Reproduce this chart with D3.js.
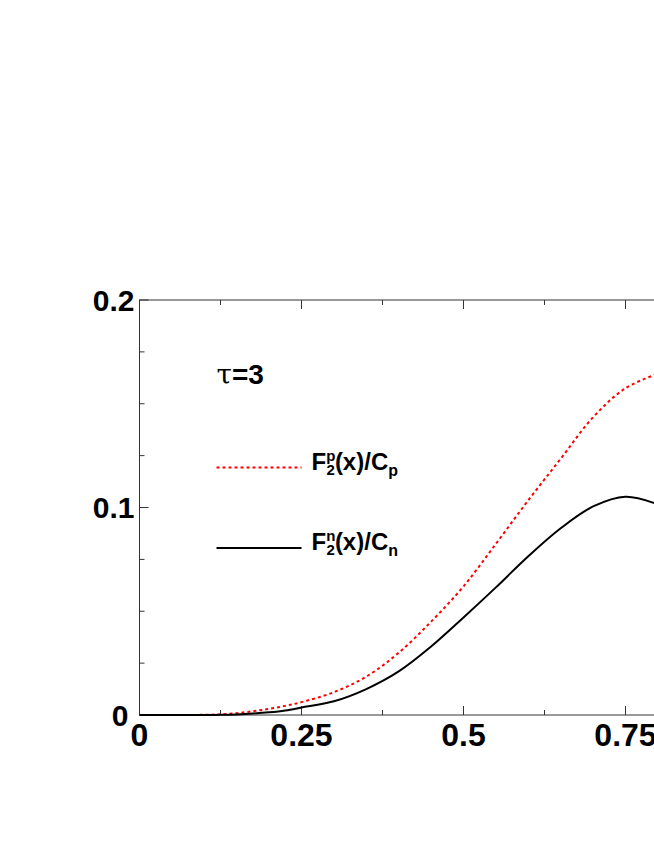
<!DOCTYPE html>
<html>
<head>
<meta charset="utf-8">
<script src="https://cdn.jsdelivr.net/npm/d3@7"></script>
<style>
  body { margin: 0; background: #fff; }
  text { font-family: 'Liberation Sans', Arial, Helvetica, sans-serif; font-weight: bold; }
</style>
</head>
<body>
<div id="chart"></div>
<script>
// values
const xs = [0, 0.05, 0.1, 0.125, 0.15, 0.175, 0.2, 0.225, 0.25, 0.3, 0.35, 0.4, 0.45, 0.5, 0.55, 0.6, 0.65, 0.7, 0.75, 0.8]
const protonVals = [0, 0, 0.0001, 0.0003, 0.0009, 0.0018, 0.003, 0.0044, 0.0062, 0.011, 0.0185, 0.030, 0.045, 0.062, 0.0825, 0.1035, 0.1235, 0.1435, 0.1575, 0.1645]
const neutronVals = [0, 0, 0, 0.0001, 0.0003, 0.0007, 0.0013, 0.0022, 0.0036, 0.0066, 0.0125, 0.021, 0.033, 0.047, 0.0615, 0.0765, 0.090, 0.1005, 0.1052, 0.1015]

const xTicks = [0, 0.25, 0.5, 0.75, 1]
const xTickLabels = ['0', '0.25', '0.5', '0.75', '1']
const yTicks = [0, 0.1, 0.2]
const yTickLabels = ['0', '0.1', '0.2']

const margin = { top: 300, left: 139.5, right: 0, bottom: 131 }
const height = 846 - margin.top - margin.bottom
const width = 648

const svg = d3
  .select('#chart')
  .append('svg')
  .attr('width', 654)
  .attr('height', 846)
  .append('g')
  .attr('transform', 'translate(' + margin.left + ',' + margin.top + ')')

const xScale = d3.scaleLinear().domain([0, 1]).range([0, width])
const yScale = d3.scaleLinear().domain([0, 0.2]).range([height, 0])

// frame
svg
  .append('rect')
  .attr('width', width)
  .attr('height', height)
  .attr('fill', 'none')
  .attr('stroke', '#333')
  .attr('stroke-width', 1)

// ticks pointing inward on every side
const xMinor = d3.range(0, 1.0001, 0.125)
const yMinor = d3.range(0, 0.2001, 0.025)
const isMajor = (v, list) => list.some(t => Math.abs(t - v) < 1e-6)

xMinor.forEach(v => {
  const len = isMajor(v, xTicks) ? 9 : 5
  svg.append('line')
    .attr('x1', xScale(v)).attr('x2', xScale(v))
    .attr('y1', height).attr('y2', height - len)
    .attr('stroke', '#333')
  svg.append('line')
    .attr('x1', xScale(v)).attr('x2', xScale(v))
    .attr('y1', 0).attr('y2', len)
    .attr('stroke', '#333')
})

yMinor.forEach(v => {
  const len = isMajor(v, yTicks) ? 9 : 5
  svg.append('line')
    .attr('x1', 0).attr('x2', len)
    .attr('y1', yScale(v)).attr('y2', yScale(v))
    .attr('stroke', '#333')
  svg.append('line')
    .attr('x1', width).attr('x2', width - len)
    .attr('y1', yScale(v)).attr('y2', yScale(v))
    .attr('stroke', '#333')
})

// tick labels
svg
  .selectAll('.x-label')
  .data(xTicks)
  .enter()
  .append('text')
  .attr('class', 'x-label')
  .attr('x', d => xScale(d))
  .attr('y', height + 31)
  .attr('text-anchor', 'middle')
  .attr('font-size', 32)
  .text((d, i) => xTickLabels[i])

svg
  .selectAll('.y-label')
  .data(yTicks)
  .enter()
  .append('text')
  .attr('class', 'y-label')
  .attr('x', d => (d === 0 ? -11 : -5))
  .attr('y', d => yScale(d) + 10.5)
  .attr('text-anchor', 'end')
  .attr('font-size', 30)
  .text((d, i) => yTickLabels[i])

// curves
const line = d3
  .line()
  .x((d, i) => xScale(xs[i]))
  .y(d => yScale(d))
  .curve(d3.curveCatmullRom.alpha(0.5))

svg
  .append('path')
  .datum(protonVals)
  .attr('d', line)
  .attr('fill', 'none')
  .attr('stroke', '#ff0000')
  .attr('stroke-width', 2)
  .attr('stroke-dasharray', '3,3')

svg
  .append('path')
  .datum(neutronVals)
  .attr('d', line)
  .attr('fill', 'none')
  .attr('stroke', '#000')
  .attr('stroke-width', 2)

// tau label
const tau = svg
  .append('text')
  .attr('x', 77)
  .attr('y', 84)
  .attr('font-size', 28)
tau.append('tspan').attr('font-family', "'DejaVu Serif', serif").attr('font-weight', 'normal').text('τ')
tau.append('tspan').text('=3')

// legend
const legend = [
  { sup: 'p', sub: 'p', y: 167.5, color: '#ff0000', dash: '3,3' },
  { sup: 'n', sub: 'n', y: 248, color: '#000', dash: null }
]

legend.forEach(d => {
  svg
    .append('line')
    .attr('x1', 77)
    .attr('x2', 162)
    .attr('y1', d.y)
    .attr('y2', d.y)
    .attr('stroke', d.color)
    .attr('stroke-width', 2)
    .attr('stroke-dasharray', d.dash)

  const t = svg
    .append('text')
    .attr('x', 172)
    .attr('y', d.y + 2)
    .attr('font-size', 24)
  t.append('tspan').text('F')
  t.append('tspan').attr('font-size', 15).attr('dy', -9).text(d.sup)
  t.append('tspan').attr('font-size', 15).attr('dx', -8.8).attr('dy', 14).text('2')
  t.append('tspan').attr('dy', -5).text('(x)/C')
  t.append('tspan').attr('font-size', 16).attr('dy', 6).text(d.sub)
})
</script>
</body>
</html>
